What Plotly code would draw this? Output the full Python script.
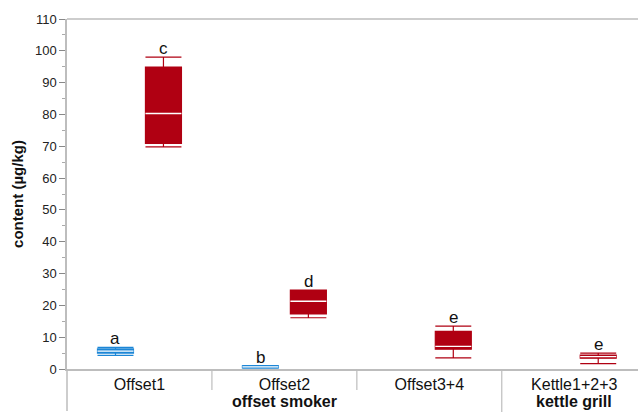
import plotly.graph_objects as go

# ---- data ----
categories = ["Offset1", "Offset2", "Offset3+4", "Kettle1+2+3"]

blue_x = ["Offset1", "Offset2"]
blue_min = [4.3, 0.3]
blue_q1 = [5.0, 0.35]
blue_median = [5.6, 0.65]
blue_q3 = [6.3, 1.0]
blue_max = [6.8, 1.05]
blue_letters = ["a", "b"]

red_x = ["Offset1", "Offset2", "Offset3+4", "Kettle1+2+3"]
red_min = [69.8, 16.1, 3.5, 1.7]
red_q1 = [70.9, 17.3, 6.2, 3.4]
red_median = [80.3, 21.3, 7.1, 3.9]
red_q3 = [94.9, 24.8, 11.8, 4.4]
red_max = [98.0, 24.8, 13.5, 5.0]
red_letters = ["c", "d", "e", "e"]

group_labels = ["offset smoker", "kettle grill"]
group_centers = ["Offset2", "Kettle1+2+3"]

BLUE = "#1C86D6"
RED = "#B00012"
GRAY = "#BDBDBD"
FONT = "Liberation Sans, Arial, sans-serif"

fig = go.Figure()


def add_series(xs, mn, q1, med, q3, mx, color, grp):
    fig.add_trace(go.Box(
        x=xs, q1=q1, median=med, q3=q3, lowerfence=mn, upperfence=mx,
        fillcolor=color, line=dict(color=color, width=1.2), whiskerwidth=1,
        offsetgroup=grp, boxpoints=False, showlegend=False, hoverinfo="skip"))
    # white median line drawn as a zero-height box on top
    fig.add_trace(go.Box(
        x=xs, q1=med, median=med, q3=med, lowerfence=med, upperfence=med,
        fillcolor="rgba(0,0,0,0)", line=dict(color="white", width=1.3),
        whiskerwidth=0, offsetgroup=grp, boxpoints=False, showlegend=False,
        hoverinfo="skip"))


add_series(blue_x, blue_min, blue_q1, blue_median, blue_q3, blue_max, BLUE, "blue")
add_series(red_x, red_min, red_q1, red_median, red_q3, red_max, RED, "red")

annotations = []
for xs, mx, letters, shift in [(blue_x, blue_max, blue_letters, -24),
                               (red_x, red_max, red_letters, 24)]:
    for x, m, t in zip(xs, mx, letters):
        annotations.append(dict(x=x, y=m, xref="x", yref="y", text=t,
                                showarrow=False, xshift=shift, yshift=-3,
                                yanchor="bottom",
                                font=dict(family=FONT, size=17, color="#111")))
for lab, c in zip(group_labels, group_centers):
    annotations.append(dict(x=c, y=-0.094, xref="x", yref="paper",
                            text="<b>" + lab + "</b>", showarrow=False,
                            yanchor="middle",
                            font=dict(family=FONT, size=16, color="#111")))

shapes = [
    dict(type="line", xref="paper", yref="paper", x0=0, x1=1, y0=1, y1=1,
         line=dict(color=GRAY, width=1.5)),
    dict(type="line", xref="paper", yref="paper", x0=0, x1=0, y0=0, y1=-0.12,
         line=dict(color=GRAY, width=1.5)),
    dict(type="line", xref="x", yref="paper", x0=0.5, x1=0.5, y0=0, y1=-0.06,
         line=dict(color=GRAY, width=1.2)),
    dict(type="line", xref="x", yref="paper", x0=1.5, x1=1.5, y0=0, y1=-0.06,
         line=dict(color=GRAY, width=1.2)),
    dict(type="line", xref="x", yref="paper", x0=2.5, x1=2.5, y0=0, y1=-0.125,
         line=dict(color=GRAY, width=1.2)),
]

fig.update_layout(
    width=638, height=412,
    margin=dict(l=67, r=0, t=19, b=43, autoexpand=False),
    paper_bgcolor="white", plot_bgcolor="white",
    boxmode="group", boxgap=0.338, boxgroupgap=0.25,
    annotations=annotations, shapes=shapes,
    font=dict(family=FONT, color="#222"),
    xaxis=dict(type="category", categoryorder="array", categoryarray=categories,
               range=[-0.5, 3.44], showline=True, linecolor=GRAY, linewidth=1.5,
               showgrid=False, zeroline=False, ticks="", automargin=False,
               tickfont=dict(family=FONT, size=16, color="#111")),
    yaxis=dict(range=[0, 110], dtick=10, showline=True, linecolor=GRAY,
               linewidth=1.5, showgrid=False, zeroline=False, automargin=False,
               ticks="outside", ticklen=6, tickcolor="#888", tickwidth=1,
               minor=dict(dtick=5, ticks="outside", ticklen=3, tickcolor="#aaa"),
               tickfont=dict(family=FONT, size=13, color="#222"),
               title=dict(text="<b>content (µg/kg)</b>", standoff=8,
                          font=dict(family=FONT, size=15, color="#111"))),
)

fig.write_html("out.html",
               config={"displayModeBar": False},
               post_script="document.body.style.margin='0';"
                           "document.body.style.padding='0';"
                           "document.body.style.overflow='hidden';")
